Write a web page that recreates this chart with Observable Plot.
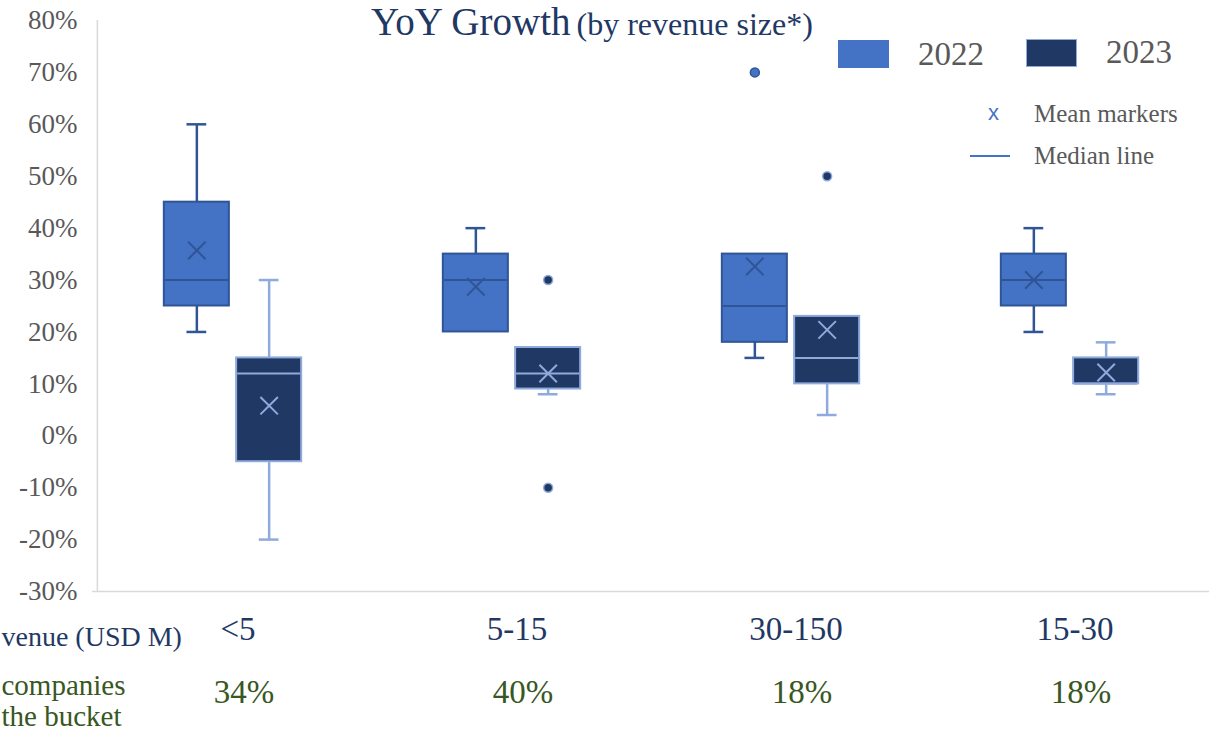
<!DOCTYPE html>
<html><head><meta charset="utf-8">
<script src="https://cdn.jsdelivr.net/npm/d3@7"></script>
<script src="https://cdn.jsdelivr.net/npm/@observablehq/plot@0.6"></script>
<style>
html,body{margin:0;padding:0;background:#fff;}
#wrap{position:relative;width:1210px;height:732px;overflow:hidden;font-family:"Liberation Serif",serif;}
#chart{position:absolute;left:0;top:0;}
.sw{position:absolute;box-sizing:border-box;}
.lg{position:absolute;line-height:1;white-space:nowrap;color:#595959;}
</style></head><body>
<div id="wrap">
<div id="chart"></div>
<div class="sw" style="left:838px;top:40px;width:51px;height:28px;background:#4472C4"></div>
<div class="lg" style="left:918px;top:38.4px;font-size:33px">2022</div>
<div class="sw" style="left:1026px;top:39px;width:51px;height:28px;background:#203864;border:1px solid #8FAADC"></div>
<div class="lg" style="left:1106px;top:35.6px;font-size:33px">2023</div>
<div class="lg" style="left:988px;top:102px;font-size:22px;font-family:'Liberation Sans',sans-serif;color:#4472C4">x</div>
<div class="lg" style="left:1034px;top:100.7px;font-size:25px">Mean markers</div>
<div class="sw" style="left:970px;top:155px;width:40px;height:2px;background:#4472C4"></div>
<div class="lg" style="left:1034px;top:142.9px;font-size:25px">Median line</div>
</div>
<script>
const categories = ["<5", "5-15", "30-150", "15-30"];
const years = ["2022", "2023"];
const shares = ["34%", "40%", "18%", "18%"];
const tickValues = [-30, -20, -10, 0, 10, 20, 30, 40, 50, 60, 70, 80];

const low2022    = [20, 20, 15, 20];
const q1_2022    = [25, 20, 18, 25];
const median2022 = [30, 30, 25, 30];
const q3_2022    = [45, 35, 35, 35];
const high2022   = [60, 40, 35, 40];
const mean2022   = [35.7, 28.7, 32.6, 30];

const low2023    = [-20, 8, 4, 8];
const q1_2023    = [-5, 9, 10, 10];
const median2023 = [12, 12, 15, 10];
const q3_2023    = [15, 17, 23, 15];
const high2023   = [30, 17, 23, 18];
const mean2023   = [5.8, 12, 20.4, 12.2];

const outlierCats   = ["5-15", "5-15", "30-150", "30-150"];
const outlierYears  = ["2023", "2023", "2022", "2023"];
const outlierValues = [30, -10, 70, 50];

const stats = {
  "2022": {low: low2022, q1: q1_2022, median: median2022, q3: q3_2022, high: high2022, mean: mean2022},
  "2023": {low: low2023, q1: q1_2023, median: median2023, q3: q3_2023, high: high2023, mean: mean2023}
};
const rows = [];
categories.forEach((cat, i) => {
  years.forEach(year => {
    const s = stats[year];
    rows.push({cat, year, low: s.low[i], q1: s.q1[i], median: s.median[i], q3: s.q3[i], high: s.high[i], mean: s.mean[i]});
  });
});
const outliers = outlierValues.map((value, i) => ({cat: outlierCats[i], year: outlierYears[i], value}));
const shareRows = categories.map((cat, i) => ({cat, share: shares[i]}));

const W = 1210, H = 732, mL = 92, mR = 1, mT = 20, mB = 141;
const bw = (W - mL - mR) / categories.length;
const OFF = 36.15, BOX = 65.3, CAP = 20;
const yDomain = [-30, 80];

const yearStyle = [
  {year: "2022", dx: -OFF, fill: "#4472C4", line: "#2F5597"},
  {year: "2023", dx: OFF, fill: "#203864", line: "#8FAADC"}
];

const boxMarks = yearStyle.flatMap(s => {
  const f = d => d.year === s.year;
  return [
    Plot.ruleX(rows, {filter: f, x: "cat", y1: "low", y2: "q1", dx: s.dx, stroke: s.line, strokeWidth: 2.5}),
    Plot.ruleX(rows, {filter: f, x: "cat", y1: "q3", y2: "high", dx: s.dx, stroke: s.line, strokeWidth: 2.5}),
    Plot.tickY(rows, {filter: d => f(d) && d.low < d.q1, x: "cat", y: "low", dx: s.dx, insetLeft: (bw - CAP) / 2, insetRight: (bw - CAP) / 2, stroke: s.line, strokeWidth: 2.5}),
    Plot.tickY(rows, {filter: d => f(d) && d.high > d.q3, x: "cat", y: "high", dx: s.dx, insetLeft: (bw - CAP) / 2, insetRight: (bw - CAP) / 2, stroke: s.line, strokeWidth: 2.5}),
    Plot.barY(rows, {filter: f, x: "cat", y1: "q1", y2: "q3", dx: s.dx, insetLeft: (bw - BOX) / 2, insetRight: (bw - BOX) / 2, fill: s.fill, stroke: s.line, strokeWidth: 2}),
    Plot.tickY(rows, {filter: f, x: "cat", y: "median", dx: s.dx, insetLeft: (bw - BOX) / 2 + 1, insetRight: (bw - BOX) / 2 + 1, stroke: s.line, strokeWidth: 2}),
    Plot.dot(rows, {filter: f, x: "cat", y: "mean", dx: s.dx, symbol: "times", r: 8, stroke: s.line, strokeWidth: 2}),
    Plot.dot(outliers, {filter: f, x: "cat", y: "value", dx: s.dx, r: 4.5, fill: s.fill, stroke: s.line, strokeWidth: 1.5})
  ];
});

const chart = Plot.plot({
  width: W, height: H,
  marginLeft: mL, marginRight: mR, marginTop: mT, marginBottom: mB,
  style: {fontFamily: "Liberation Serif, serif", background: "white", overflow: "visible"},
  x: {domain: categories, padding: 0},
  y: {domain: yDomain},
  marks: [
    Plot.ruleY([yDomain[0]], {stroke: "#D9D9D9", strokeWidth: 1.5}),
    Plot.ruleX([categories[0]], {y1: yDomain[0], y2: yDomain[1], dx: -bw / 2 + 4, stroke: "#D9D9D9", strokeWidth: 1.5}),
    Plot.axisY({ticks: tickValues, tickSize: 0, tickPadding: 15, tickFormat: d => d + "%", fontSize: 27, color: "#595959", label: null}),
    Plot.axisX({tickSize: 0, tickPadding: 25, fontSize: 33, color: "#1F3864", label: null, dx: 5}),
    ...boxMarks,
    Plot.text(shareRows, {x: "cat", text: "share", frameAnchor: "bottom", lineAnchor: "bottom", dy: 111, dx: 11, fontSize: 33, fill: "#385723"}),
    Plot.text(["venue (USD M)"], {frameAnchor: "bottom-left", textAnchor: "start", lineAnchor: "bottom", dx: 1 - mL, dy: 54, fontSize: 28, fill: "#1F3864"}),
    Plot.text(["companies\nthe bucket"], {frameAnchor: "bottom-left", textAnchor: "start", lineAnchor: "bottom", lineHeight: 1.05, dx: 1 - mL, dy: 134, fontSize: 29, fill: "#385723"}),
    Plot.text(["YoY Growth"], {frameAnchor: "top-left", textAnchor: "end", lineAnchor: "bottom", dx: 570 - mL, dy: 14, fontSize: 39, fill: "#1F3864"}),
    Plot.text(["(by revenue size*)"], {frameAnchor: "top-left", textAnchor: "start", lineAnchor: "bottom", dx: 576 - mL, dy: 14, fontSize: 32, fill: "#1F3864"})
  ]
});
document.getElementById("chart").appendChild(chart);
</script>
</body></html>
